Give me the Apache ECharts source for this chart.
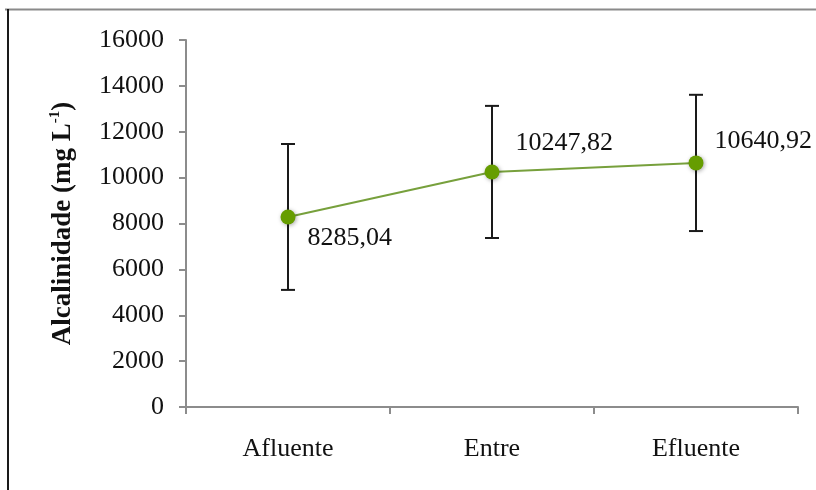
<!DOCTYPE html>
<html>
<head>
<meta charset="utf-8">
<script src="https://cdn.jsdelivr.net/npm/echarts@6/dist/echarts.min.js"></script>
<style>
  html, body { margin: 0; padding: 0; background: #fff; }
  #chart { width: 816px; height: 490px; }
</style>
</head>
<body>
<div id="chart"></div>
<script>
// Sampling points along the treatment line
const categories = ['Afluente', 'Entre', 'Efluente'];
// Mean alkalinity (mg L-1)
const alkalinity = [8285.04, 10247.82, 10640.92];
// Standard deviation for each point
const stdDev = [3180, 2880, 2970];
// Value axis ticks
const yTicks = [0, 2000, 4000, 6000, 8000, 10000, 12000, 14000, 16000];

const labelText = alkalinity.map(v => v.toFixed(2).replace('.', ','));
const errorData = alkalinity.map((v, i) => [i, v - stdDev[i], v + stdDev[i]]);

const serif = '"Liberation Serif", "Times New Roman", serif';
const FS = 26;

const chart = echarts.init(document.getElementById('chart'), null, { renderer: 'canvas' });

chart.setOption({
  backgroundColor: '#ffffff',
  animation: false,
  graphic: [
    { type: 'line', shape: { x1: 5, y1: 9.5, x2: 816, y2: 9.5 }, style: { stroke: '#8a8a8a', lineWidth: 2 } },
    { type: 'line', shape: { x1: 8, y1: 9, x2: 8, y2: 490 }, style: { stroke: '#1a1a1a', lineWidth: 2 } }
  ],
  grid: { left: 186, right: 18, top: 40, bottom: 83, containLabel: false },
  xAxis: {
    type: 'category',
    data: categories,
    boundaryGap: true,
    axisLine: { lineStyle: { color: '#8c8c8c', width: 2 } },
    axisTick: { show: true, length: 7, lineStyle: { color: '#8c8c8c', width: 2 } },
    axisLabel: { color: '#111', fontFamily: serif, fontSize: FS, margin: 29 }
  },
  yAxis: {
    type: 'value',
    min: yTicks[0],
    max: yTicks[yTicks.length - 1],
    interval: yTicks[1] - yTicks[0],
    splitLine: { show: false },
    axisLine: { show: true, lineStyle: { color: '#8c8c8c', width: 2 } },
    axisTick: { show: true, length: 7, lineStyle: { color: '#8c8c8c', width: 2 } },
    axisLabel: {
      color: '#111', fontFamily: serif, fontSize: FS, margin: 22,
      formatter: v => String(v)
    },
    name: '{a|Alcalinidade (mg L}{s|-1}{a|)}',
    nameLocation: 'middle',
    nameRotate: 90,
    nameGap: 108,
    nameTextStyle: {
      rich: {
        a: { fontFamily: serif, fontWeight: 'bold', fontSize: 27, color: '#111', lineHeight: 30 },
        s: { fontFamily: serif, fontWeight: 'bold', fontSize: 15, color: '#111', verticalAlign: 'top', lineHeight: 30, padding: [0, 0, 10, 0] }
      }
    }
  },
  series: [
    {
      type: 'custom',
      data: errorData,
      z: 2,
      renderItem: function (params, api) {
        const x = api.value(0);
        const lo = api.coord([x, api.value(1)]);
        const hi = api.coord([x, api.value(2)]);
        const cap = 7;
        const style = { stroke: '#1a1a1a', lineWidth: 2 };
        return {
          type: 'group',
          children: [
            { type: 'line', shape: { x1: hi[0], y1: hi[1], x2: lo[0], y2: lo[1] }, style: style },
            { type: 'line', shape: { x1: hi[0] - cap, y1: hi[1], x2: hi[0] + cap, y2: hi[1] }, style: style },
            { type: 'line', shape: { x1: lo[0] - cap, y1: lo[1], x2: lo[0] + cap, y2: lo[1] }, style: style }
          ]
        };
      }
    },
    {
      type: 'line',
      z: 3,
      data: [
        { value: alkalinity[0], label: { position: 'right', distance: 12, offset: [0, 21] } },
        { value: alkalinity[1], label: { position: 'right', distance: 16, offset: [0, -29] } },
        { value: alkalinity[2], label: { position: 'right', distance: 11, offset: [0, -22] } }
      ],
      symbol: 'circle',
      symbolSize: 15,
      lineStyle: { color: '#77a03c', width: 2 },
      itemStyle: {
        color: '#669d00',
        borderWidth: 0,
        shadowColor: 'rgba(0,0,0,0.35)',
        shadowBlur: 4,
        shadowOffsetX: 1,
        shadowOffsetY: 1
      },
      label: {
        show: true,
        color: '#111',
        fontFamily: serif,
        fontSize: FS,
        formatter: p => labelText[p.dataIndex]
      }
    }
  ]
});
</script>
</body>
</html>
